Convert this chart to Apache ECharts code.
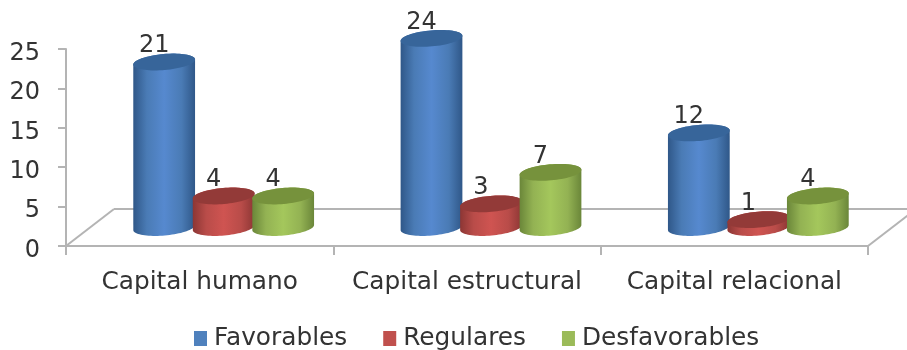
<!DOCTYPE html>
<html>
<head>
<meta charset="utf-8">
<style>html,body{margin:0;padding:0;background:#fff}#chart{width:907px;height:350px}</style>
<script src="https://cdn.jsdelivr.net/npm/echarts@6/dist/echarts.min.js"></script>
</head>
<body>
<div id="chart"></div>
<script>
// Assessment of intellectual capital by component
const categories = ['Capital humano', 'Capital estructural', 'Capital relacional'];
const favorables = [21, 24, 12];
const regulares = [4, 3, 1];
const desfavorables = [4, 7, 4];
const yTicks = {min: 0, max: 25, interval: 5};

const FONT = '"DejaVu Sans", Verdana, sans-serif';
const TEXT = '#333333';
const AXIS = '#b4b4b4';

// Oblique floor depth in pixels; cylinders stand halfway back on it
const DEPTH_X = 48, DEPTH_Y = 37;
const RX = 31, RY = 8, TILT = 5 * Math.PI / 180;
const PITCH = 59.5;

function ellipsePoint(cx, cy, t) {
  const x = RX * Math.cos(t), y = RY * Math.sin(t);
  return [cx + x * Math.cos(TILT) + y * Math.sin(TILT),
          cy - x * Math.sin(TILT) + y * Math.cos(TILT)];
}

function ellipseArc(cx, cy, from, to, steps) {
  const pts = [];
  for (let i = 0; i <= steps; i++) pts.push(ellipsePoint(cx, cy, from + (to - from) * i / steps));
  return pts;
}

function cylinder(slot, colors) {
  return function (params, api) {
    const cat = api.value(0), val = api.value(1);
    const base = api.coord([cat, 0]), top = api.coord([cat, val]);
    const cx = base[0] + DEPTH_X / 2 + slot * PITCH;
    const by = base[1] - DEPTH_Y / 2, ty = top[1] - DEPTH_Y / 2;
    // Side wall: front half of the bottom rim, then over the back of the top rim
    const body = ellipseArc(cx, by, 0, Math.PI, 40)
      .concat(ellipseArc(cx, ty, Math.PI, 2 * Math.PI, 40));
    const cap = ellipseArc(cx, ty, 0, 2 * Math.PI, 72);
    const fill = {
      type: 'linear', x: cx - RX, y: 0, x2: cx + RX, y2: 0, global: true,
      colorStops: [
        {offset: 0, color: colors.edge},
        {offset: 0.22, color: colors.mid},
        {offset: 0.5, color: colors.light},
        {offset: 0.78, color: colors.mid},
        {offset: 1, color: colors.edge}
      ]
    };
    return {
      type: 'group',
      children: [
        {type: 'polygon', shape: {points: body}, style: {fill: fill}},
        {type: 'polygon', shape: {points: cap}, style: {fill: colors.top}},
        {type: 'text', style: {
          x: cx - 10, y: ty - 16, text: String(val), fill: TEXT,
          font: '24px ' + FONT, align: 'center', verticalAlign: 'middle'
        }}
      ]
    };
  };
}

function floor(params) {
  const r = params.coordSys;
  const a = [r.x, r.y + r.height], b = [r.x + r.width, r.y + r.height];
  const line = {stroke: AXIS, lineWidth: 2, fill: null};
  const seg = (p, q) => ({type: 'line', shape: {x1: p[0], y1: p[1], x2: q[0], y2: q[1]}, style: line});
  const a2 = [a[0] + DEPTH_X, a[1] - DEPTH_Y], b2 = [b[0] + DEPTH_X, b[1] - DEPTH_Y];
  return {type: 'group', children: [seg(a, a2), seg(a2, b2), seg(b, b2)]};
}

function rows(values) {
  return values.map((v, i) => [i, v]);
}

const palette = {
  Favorables: {legend: '#4f81bd', edge: '#2f5788', mid: '#4a7bb5', light: '#5689cf', top: '#37659a'},
  Regulares: {legend: '#c0504d', edge: '#8c3634', mid: '#b94c49', light: '#cf5451', top: '#933a38'},
  Desfavorables: {legend: '#9bbb59', edge: '#6a8639', mid: '#93b253', light: '#a4c75c', top: '#76923c'}
};

const chart = echarts.init(document.getElementById('chart'));
chart.setOption({
  animation: false,
  backgroundColor: '#ffffff',
  textStyle: {fontFamily: FONT},
  grid: {left: 66, right: 39, top: 49, bottom: 104, containLabel: false},
  xAxis: {
    type: 'category',
    data: categories,
    axisLine: {lineStyle: {color: AXIS, width: 2}},
    axisTick: {show: true, length: 9, lineStyle: {color: AXIS, width: 2}},
    axisLabel: {color: TEXT, fontSize: 24.8, fontFamily: FONT, margin: 24, interval: 0, hideOverlap: false},
    splitLine: {show: false}
  },
  yAxis: {
    type: 'value',
    min: yTicks.min, max: yTicks.max, interval: yTicks.interval,
    axisLine: {show: true, lineStyle: {color: AXIS, width: 2}},
    axisTick: {show: true, length: 8, lineStyle: {color: AXIS, width: 2}},
    axisLabel: {color: TEXT, fontSize: 24, fontFamily: FONT, margin: 26, verticalAlign: 'top', lineHeight: 9},
    splitLine: {show: false}
  },
  legend: {
    left: 194, top: 326, padding: 0,
    itemWidth: 13, itemHeight: 15, itemGap: 36,
    textStyle: {color: TEXT, fontSize: 24.8, fontFamily: FONT, padding: [0, 0, 0, 2]},
    data: ['Favorables', 'Regulares', 'Desfavorables'].map(name => ({
      name: name, icon: 'rect', itemStyle: {color: palette[name].legend}
    }))
  },
  series: [
    {type: 'custom', name: 'Suelo', silent: true, z: 1, renderItem: floor, data: [[0, 0]], encode: {x: 0, y: 1}},
    {type: 'custom', name: 'Favorables', z: 2, renderItem: cylinder(-1, palette.Favorables),
      data: rows(favorables), encode: {x: 0, y: 1}, itemStyle: {color: palette.Favorables.legend}},
    {type: 'custom', name: 'Regulares', z: 3, renderItem: cylinder(0, palette.Regulares),
      data: rows(regulares), encode: {x: 0, y: 1}, itemStyle: {color: palette.Regulares.legend}},
    {type: 'custom', name: 'Desfavorables', z: 4, renderItem: cylinder(1, palette.Desfavorables),
      data: rows(desfavorables), encode: {x: 0, y: 1}, itemStyle: {color: palette.Desfavorables.legend}}
  ]
});
</script>
</body>
</html>
